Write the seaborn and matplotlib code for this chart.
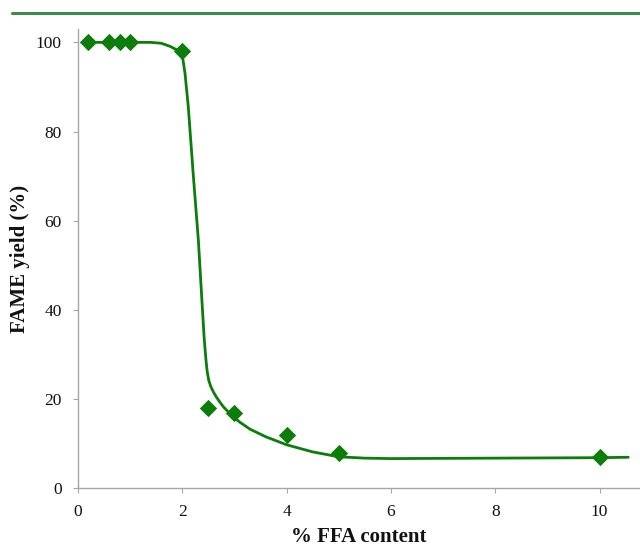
import matplotlib
matplotlib.use("Agg")
import matplotlib.pyplot as plt
from matplotlib.lines import Line2D
import seaborn as sns
import pandas as pd

# measured data points
ffa_content = [0.2, 0.6, 0.8, 1.0, 2.0, 2.5, 3.0, 4.0, 5.0, 10.0]
fame_yield = [100, 100, 100, 100, 98, 18, 17, 12, 8, 7]

# fitted trend curve
curve_x = [0.2, 1.0, 1.4, 1.6, 1.77, 1.9, 2.0, 2.054, 2.117, 2.21, 2.31,
           2.385, 2.42, 2.44, 2.46, 2.48, 2.51, 2.55, 2.6, 2.65, 2.72, 2.79,
           2.88, 2.98, 3.1, 3.3, 3.6, 4.0, 4.5, 5.0, 5.5, 6.0, 8.0, 10.0,
           10.55]
curve_y = [100, 100, 100, 99.8, 99.1, 98.3, 97.3, 93.1, 85.6, 70.7, 55.7,
           40.8, 34.0, 31.0, 28.3, 26.2, 24.2, 22.8, 21.6, 20.6, 19.4, 18.3,
           17.2, 16.1, 14.9, 13.3, 11.6, 9.8, 8.2, 7.1, 6.8, 6.7, 6.8, 6.9,
           7.0]

x_ticks = [0, 2, 4, 6, 8, 10]
y_ticks = [0, 20, 40, 60, 80, 100]

sns.set_style("white")
plt.rcParams['font.family'] = ['Liberation Serif', 'DejaVu Serif']

pts = pd.DataFrame({"x": ffa_content, "y": fame_yield})
crv = pd.DataFrame({"x": curve_x, "y": curve_y})

fig = plt.figure(figsize=(6.4, 5.47), dpi=100)
ax = fig.add_axes([0.1216, 0.107, 0.878, 0.840])

green = "#0b7d0b"
sns.lineplot(data=crv, x="x", y="y", ax=ax, color=green, linewidth=2.0,
             sort=False, estimator=None, zorder=2)
sns.scatterplot(data=pts, x="x", y="y", ax=ax, marker="D", s=78,
                color=green, edgecolor=green, linewidth=0, zorder=3)

ax.set_xlim(0, 10.77)
ax.set_ylim(0, 103)
ax.set_xticks(x_ticks)
ax.set_yticks(y_ticks)
ax.set_xticklabels([str(t) for t in x_ticks])
ax.set_yticklabels([str(t) for t in y_ticks])

for side in ["top", "right"]:
    ax.spines[side].set_visible(False)
for side in ["left", "bottom"]:
    ax.spines[side].set_color("#a6a6a6")
    ax.spines[side].set_linewidth(1.0)

ax.tick_params(axis="both", which="major", direction="out", length=3.5,
               width=0.8, color="#a6a6a6", labelsize=12.5,
               labelcolor="#111111", pad=8, bottom=True, left=True)

ax.set_xlabel("% FFA content", fontsize=15, fontweight="bold", labelpad=5,
              color="#111111")
ax.set_ylabel("FAME yield (%)", fontsize=15, fontweight="bold", labelpad=4,
              color="#111111")

# decorative rule at top of the page
fig.add_artist(Line2D([12 / 640, 1.0], [1 - 13 / 547, 1 - 13 / 547],
                      transform=fig.transFigure, color="#3f8a4b", linewidth=2.2))

fig.savefig("out.png", dpi=100)
